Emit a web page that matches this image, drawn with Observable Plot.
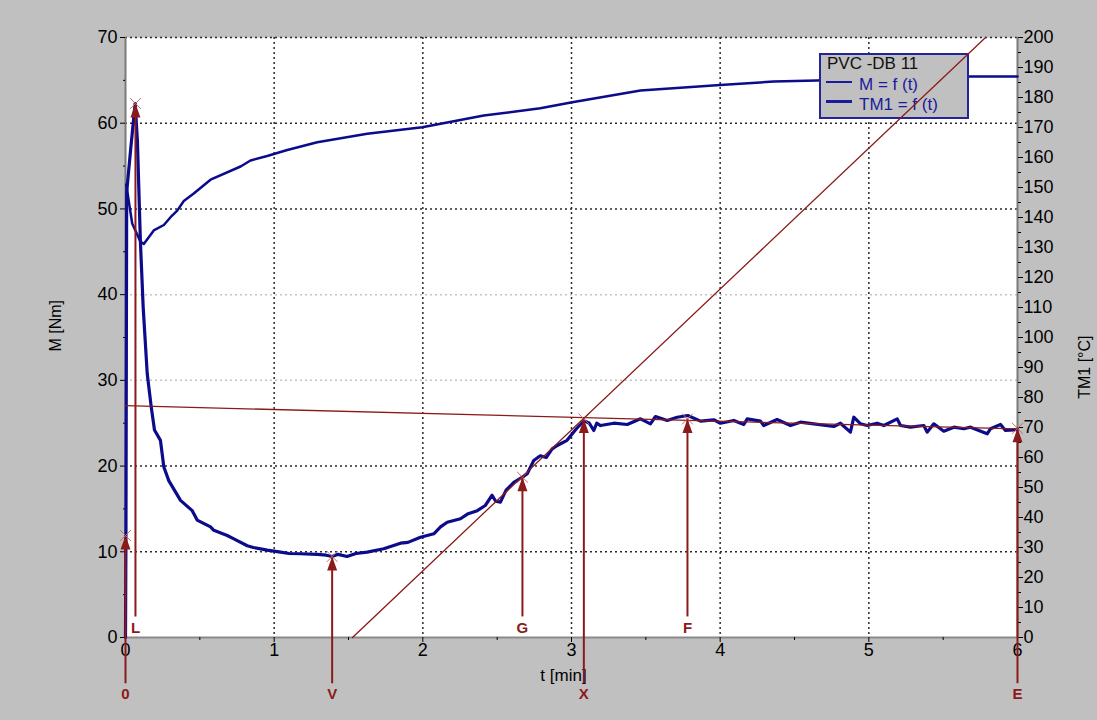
<!DOCTYPE html>
<html><head><meta charset="utf-8">
<script src="https://cdn.jsdelivr.net/npm/d3@7"></script>
<script src="https://cdn.jsdelivr.net/npm/@observablehq/plot@0.6"></script>
<style>
body{margin:0;background:#c0c0c0;}
#wrap{position:relative;width:1097px;height:720px;background:#c0c0c0;font-family:"Liberation Sans",Arial,sans-serif;overflow:hidden;}
#wrap svg{position:absolute;left:0;top:0;}
#legend{position:absolute;left:819px;top:53px;width:150px;height:66px;box-sizing:border-box;border:2px solid #23239a;background:#c0c0c0;}
#legend div{position:absolute;white-space:nowrap;font-size:17px;line-height:17px;}
#legend .title{left:6px;top:0px;color:#111;}
#legend .lab{left:38px;color:#1a1a9c;}
#legend .ln{left:5px;width:26px;background:#1a1a9c;}
</style></head>
<body><div id="wrap"></div>
<script>
// ---- data ----
// torque M [Nm] vs time t [min]
const torqueReadings = [
 [0,0],[0.003,12],[0.008,52],[0.035,57],[0.065,62.3],[0.08,58],[0.1,46.3],[0.119,38.5],[0.146,30.8],
 [0.173,26.9],[0.195,24.2],[0.235,23.0],[0.258,19.9],[0.291,18.3],[0.37,16.0],[0.449,14.8],[0.482,13.7],
 [0.572,12.9],[0.594,12.5],[0.684,11.9],[0.729,11.5],[0.819,10.7],[0.86,10.5],[0.953,10.2],[1.043,9.96],
 [1.1,9.8],[1.177,9.77],[1.29,9.7],[1.35,9.6],[1.39,9.45],[1.43,9.7],[1.49,9.45],[1.55,9.8],[1.626,9.96],
 [1.737,10.35],[1.85,11.0],[1.9,11.1],[1.984,11.7],[2.074,12.1],[2.119,12.9],[2.164,13.45],[2.253,13.85],
 [2.3,14.4],[2.366,14.8],[2.42,15.4],[2.466,16.6],[2.49,15.9],[2.522,15.8],[2.56,17.2],[2.612,18.1],
 [2.67,18.7],[2.702,19.1],[2.746,20.65],[2.79,21.2],[2.83,21.0],[2.87,22.0],[2.904,22.4],[2.97,23.0],
 [3.03,24.3],[3.083,25.3],[3.12,25.0],[3.15,24.15],[3.17,25.0],
 [3.195,24.73],[3.285,25.0],[3.375,24.85],[3.464,25.51],[3.531,24.93],[3.565,25.78],[3.644,25.32],
 [3.711,25.70],[3.782,25.90],[3.868,25.24],[3.957,25.40],[4.002,25.00],[4.092,25.32],[4.159,24.85],
 [4.182,25.51],[4.271,25.24],[4.293,24.73],[4.383,25.43],[4.473,24.73],[4.540,25.12],[4.630,24.93],
 [4.764,24.62],[4.809,25.00],[4.876,23.96],[4.899,25.70],[4.944,24.93],[4.989,24.73],[5.056,25.00],
 [5.101,24.73],[5.191,25.51],[5.213,24.73],[5.280,24.54],[5.370,24.73],[5.392,23.96],[5.437,24.93],
 [5.504,24.07],[5.572,24.54],[5.639,24.35],[5.684,24.54],[5.796,23.77],[5.818,24.35],[5.886,24.85],
 [5.919,24.15],[5.975,24.23],[6,24.3]
];
// melt temperature TM1 [°C] vs time t [min]
const tempReadings = [
 [0.005,151],[0.045,138],[0.1,132],[0.123,131.2],[0.19,135.7],[0.258,137.5],[0.303,140.1],[0.348,142.3],
 [0.392,145.5],[0.459,148],[0.572,152.6],[0.774,157],[0.841,159],[0.953,160.5],[1.088,162.5],[1.29,165.1],
 [1.626,167.9],[1.996,170.1],[2.41,174],[2.79,176.4],[3.005,178.4],[3.464,182.3],[4.0,184.2],[4.36,185.3],
 [4.65,185.7],[5.0,186.5],[5.5,187],[6.0,187]
];
// evaluation points
const markerLabel = ["0","L","V","G","X","F","E"];
const markerT     = [0, 0.067, 1.39, 2.67, 3.083, 3.78, 6];
const markerM     = [11.9, 62.3, 9.45, 18.7, 25.5, 25.5, 24.4];
const markerInside= [false, true, false, true, false, true, false];
// construction lines
const baseLineT = [0, 6],       baseLineM = [27.05, 24.33];
const tangentT  = [1.527, 5.785], tangentM = [0, 70];
// ticks
const xTicks = [0,1,2,3,4,5,6];
const xMinor = [0.5,1.5,2.5,3.5,4.5,5.5];
const mTicks = [0,10,20,30,40,50,60,70];
const mMinor = [5,15,25,35,45,55,65];
const tempTicks = [0,10,20,30,40,50,60,70,80,90,100,110,120,130,140,150,160,170,180,190,200];
const tempMinor = [5,15,25,35,45,55,65,75,85,95,105,115,125,135,145,155,165,175,185,195];

// ---- build ----
const K = 70/200; // °C -> Nm-axis equivalent
const torque = torqueReadings.map(([t,m]) => ({t, m}));
const temp = tempReadings.map(([t,c]) => ({t, c}));
const markers = markerLabel.map((label,i) => ({label, t:markerT[i], m:markerM[i], inside:markerInside[i]}));
const baseLine = baseLineT.map((t,i) => ({t, m:baseLineM[i]}));
const tangent = tangentT.map((t,i) => ({t, m:tangentM[i]}));

const blue = "#0b0b8c", red = "#8b1a1a";
const OUT_START = -5.4, IN_START = 2.4, OUT_LABEL = -6.6, IN_LABEL = 1.1;
const arrowHead = {draw(ctx){ ctx.moveTo(0,0); ctx.lineTo(5,14); ctx.lineTo(-5,14); ctx.closePath(); }};
const font = "Liberation Sans, Arial, sans-serif";
const common = {
  width:1097, height:720, marginLeft:125, marginRight:80, marginTop:37, marginBottom:83,
  x:{domain:[0,6]}, y:{domain:[0,70]}
};
const dotted = {strokeOpacity:1, strokeDasharray:"2,3", strokeWidth:1.5};

const base = Plot.plot({
  ...common,
  style:{background:"#c0c0c0", color:"black", fontFamily:font, overflow:"visible"},
  marks:[
    Plot.frame({fill:"white", stroke:null}),
    Plot.gridY([10,20,50,60,70], {...dotted, stroke:"#2a2a2a"}),
    Plot.gridY([30,40], {...dotted, stroke:"#c4c4c4"}),
    Plot.gridX([1,2,3,4,5], {...dotted, stroke:"#2a2a2a"}),
    Plot.ruleX([0,6], {stroke:"#7a7a7a", strokeWidth:2}),
    Plot.ruleY([0], {stroke:"#8a8a8a", strokeWidth:2}),
    Plot.axisY(mTicks, {anchor:"left", tickSize:5, tickPadding:3, fontSize:18, label:null, tickFormat:d=>String(d)}),
    Plot.axisY(mMinor, {anchor:"left", tickSize:2, tickFormat:()=>"", label:null}),
    Plot.axisY(tempTicks.map(c=>c*K), {anchor:"right", tickSize:5, tickPadding:1, fontSize:18, label:null,
      tickFormat: v => String(Math.round(v/K))}),
    Plot.axisY(tempMinor.map(c=>c*K), {anchor:"right", tickSize:3, tickFormat:()=>"", label:null}),
    Plot.axisX(xTicks, {anchor:"bottom", tickSize:5, tickPadding:1, fontSize:18, label:null, tickFormat:d=>String(d)}),
    Plot.axisX(xMinor, {anchor:"bottom", tickSize:3, tickFormat:()=>"", label:null}),
    Plot.text(["M [Nm]"], {frameAnchor:"left", dx:-70, dy:14, rotate:-90, fontSize:16}),
    Plot.text(["TM1 [°C]"], {frameAnchor:"right", dx:67, dy:-2, rotate:-90, fontSize:16}),
    Plot.text(["t [min]"], {frameAnchor:"bottom", dx:-8, dy:43, fontSize:17}),
    Plot.line(temp, {x:"t", y:d=>d.c*K, stroke:blue, strokeWidth:2.5}),
    Plot.line(torque, {x:"t", y:"m", stroke:blue, strokeWidth:3.2, strokeLinejoin:"round"}),
    Plot.line(baseLine, {x:"t", y:"m", stroke:red, strokeWidth:1.3}),
    Plot.ruleX(markers, {x:"t", y1:d=>d.inside?IN_START:OUT_START, y2:"m", stroke:red, strokeWidth:2}),
    Plot.dot(markers, {x:"t", y:"m", symbol:"times", r:5, stroke:"#c07070", strokeWidth:1}),
    Plot.dot(markers, {x:"t", y:"m", symbol:arrowHead, fill:red, stroke:"none"}),
    Plot.text(markers, {x:"t", y:d=>d.inside?IN_LABEL:OUT_LABEL, text:"label", fill:red, fontWeight:"bold", fontSize:15})
  ]
});

const overlay = Plot.plot({
  ...common,
  x:{domain:[0,6], axis:null}, y:{domain:[0,70], axis:null},
  style:{background:"transparent", fontFamily:font, pointerEvents:"none"},
  marks:[ Plot.line(tangent, {x:"t", y:"m", stroke:red, strokeWidth:1.3}) ]
});

const wrap = document.getElementById("wrap");
wrap.appendChild(base);
const legend = document.createElement("div");
legend.id = "legend";
legend.innerHTML =
  '<div class="title">PVC -DB 11</div>' +
  '<div class="ln" style="top:26px;height:1.5px"></div><div class="lab" style="top:20.5px">M = f (t)</div>' +
  '<div class="ln" style="top:44.5px;height:3px"></div><div class="lab" style="top:40.5px">TM1 = f (t)</div>';
wrap.appendChild(legend);
wrap.appendChild(overlay);
</script>
</body></html>
